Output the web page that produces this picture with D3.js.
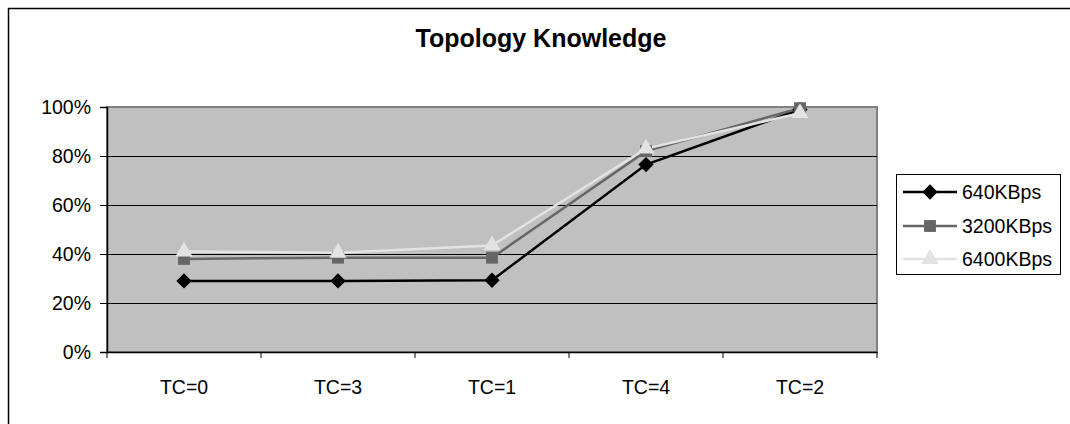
<!DOCTYPE html>
<html>
<head>
<meta charset="utf-8">
<script src="https://cdn.jsdelivr.net/npm/d3@7"></script>
<style>
  html, body { margin: 0; padding: 0; background: #fff; }
  svg { display: block; font-family: "Liberation Sans", Arial, sans-serif; }
</style>
</head>
<body>
<svg id="chart" width="1070" height="424"></svg>
<script>
// Category order along the x axis
const categories = ["TC=0", "TC=3", "TC=1", "TC=4", "TC=2"];
// Share of topology known, per bandwidth
const kb640  = [0.29, 0.29, 0.293, 0.765, 0.99];
const kb3200 = [0.38, 0.385, 0.385, 0.82, 0.995];
const kb6400 = [0.41, 0.405, 0.435, 0.83, 0.975];
const seriesNames = ["640KBps", "3200KBps", "6400KBps"];
const yTicks = [0, 0.2, 0.4, 0.6, 0.8, 1.0];

const series = [
  { name: seriesNames[0], values: kb640,  color: "#000000", marker: d3.symbolDiamond2, size: 150 },
  { name: seriesNames[1], values: kb3200, color: "#666666", marker: d3.symbolSquare2,  size: 180 },
  { name: seriesNames[2], values: kb6400, color: "#e3e3e3", marker: d3.symbolTriangle2, size: 210 }
];

const svg = d3.select("#chart");

// outer chart frame
svg.append("rect").attr("x", 8.5).attr("y", 8.5).attr("width", 1100).attr("height", 500)
  .attr("fill", "#fff").attr("stroke", "#000").attr("stroke-width", 1.5);

const plot = { left: 107, top: 107, right: 877, bottom: 352 };

const x = d3.scaleBand().domain(categories).range([plot.left, plot.right]);
const y = d3.scaleLinear().domain([0, 1]).range([plot.bottom, plot.top]);

// plot background
svg.append("rect")
  .attr("x", plot.left).attr("y", plot.top)
  .attr("width", plot.right - plot.left).attr("height", plot.bottom - plot.top)
  .attr("fill", "#c0c0c0").attr("stroke", "#808080").attr("stroke-width", 2);

// horizontal gridlines
svg.append("g").selectAll("line").data(yTicks.filter(t => t > 0 && t < 1)).join("line")
  .attr("x1", plot.left).attr("x2", plot.right)
  .attr("y1", d => Math.round(y(d)) + 0.5).attr("y2", d => Math.round(y(d)) + 0.5)
  .attr("stroke", "#000").attr("stroke-width", 1);

// y axis
const yAxis = svg.append("g").attr("transform", `translate(${plot.left},0)`)
  .call(d3.axisLeft(y).tickValues(yTicks).tickFormat(d3.format(".0%")).tickSize(7).tickPadding(9));
yAxis.select(".domain").attr("stroke", "#000").attr("stroke-width", 1.5);
yAxis.selectAll(".tick line").attr("stroke", "#000");
yAxis.selectAll(".tick text").attr("font-size", 19.5).attr("fill", "#000")
  .attr("font-family", "Liberation Sans, Arial, sans-serif");

// x axis, ticks between categories
const xAxis = svg.append("g").attr("transform", `translate(0,${plot.bottom})`)
  .call(d3.axisBottom(x).tickSize(0).tickPadding(28));
xAxis.select(".domain").attr("stroke", "#000").attr("stroke-width", 1.5);
xAxis.selectAll(".tick text").attr("font-size", 19.5).attr("fill", "#000")
  .attr("font-family", "Liberation Sans, Arial, sans-serif");
const bounds = categories.map(c => x(c)).concat([plot.right]);
xAxis.append("g").selectAll("line").data(bounds).join("line")
  .attr("x1", d => d).attr("x2", d => d).attr("y1", 0).attr("y2", 6)
  .attr("stroke", "#000").attr("stroke-width", 1);

// series lines and markers
const line = d3.line()
  .x((d, i) => x(categories[i]) + x.bandwidth() / 2)
  .y(d => y(d));

series.forEach(s => {
  svg.append("path").datum(s.values)
    .attr("d", line).attr("fill", "none")
    .attr("stroke", s.color).attr("stroke-width", 2.5);
});
series.forEach(s => {
  svg.append("g").selectAll("path").data(s.values).join("path")
    .attr("transform", (d, i) => `translate(${x(categories[i]) + x.bandwidth() / 2},${y(d)})`)
    .attr("d", d3.symbol().type(s.marker).size(s.size))
    .attr("fill", s.color);
});

// title
svg.append("text").attr("x", 541).attr("y", 47).attr("text-anchor", "middle")
  .attr("font-size", 25).attr("font-weight", "bold").text("Topology Knowledge");

// legend
const lg = svg.append("g");
lg.append("rect").attr("x", 896.5).attr("y", 174.5).attr("width", 164).attr("height", 100)
  .attr("fill", "#fff").attr("stroke", "#000").attr("stroke-width", 1);
const rowY = [192, 226, 259];
series.forEach((s, i) => {
  lg.append("line").attr("x1", 903).attr("x2", 957).attr("y1", rowY[i]).attr("y2", rowY[i])
    .attr("stroke", s.color).attr("stroke-width", 2.5);
  lg.append("path").attr("transform", `translate(930,${rowY[i]})`)
    .attr("d", d3.symbol().type(s.marker).size(s.size)).attr("fill", s.color);
  lg.append("text").attr("x", 962).attr("y", rowY[i] + 7).attr("font-size", 19.5)
    .text(s.name);
});
</script>
</body>
</html>
